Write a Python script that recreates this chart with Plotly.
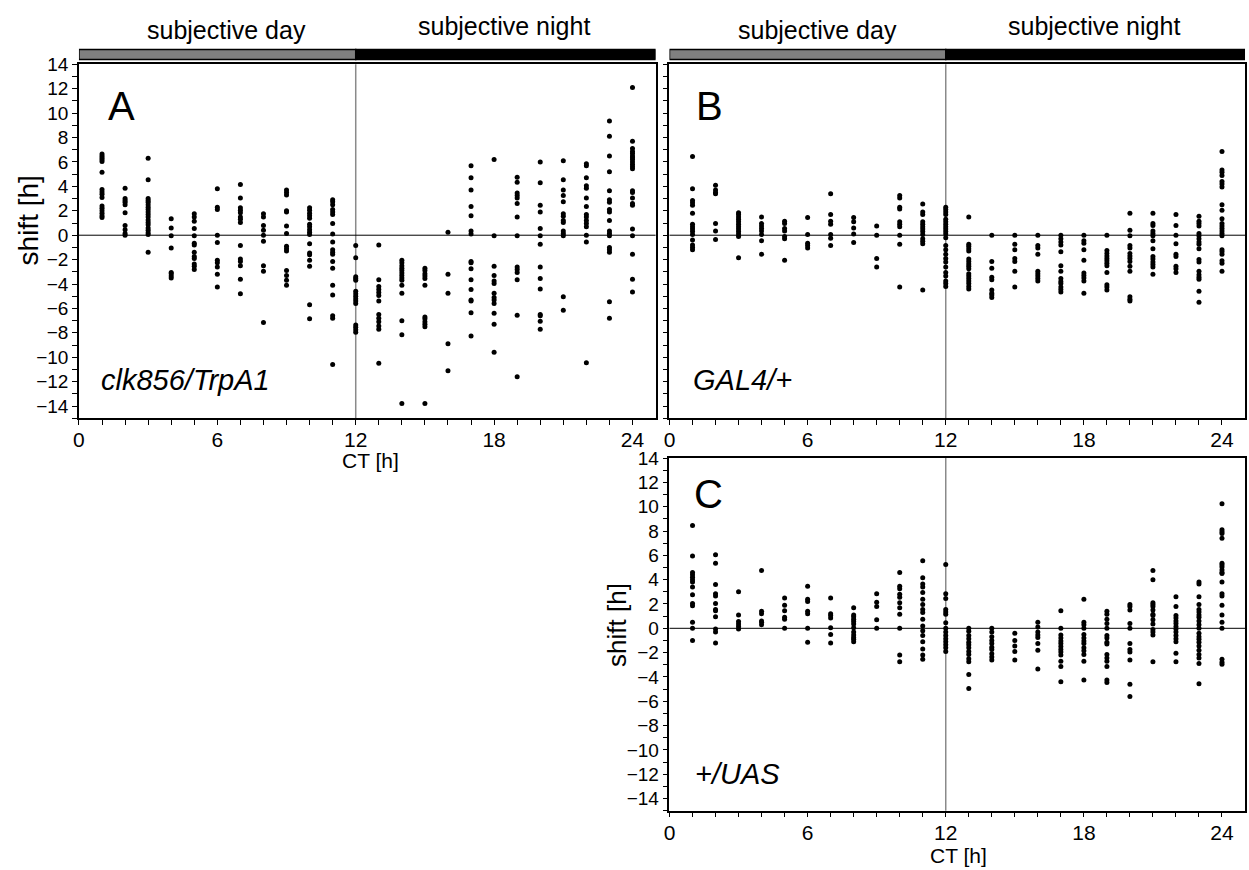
import plotly.graph_objects as go

W, H = 1249, 870
FONT = "Liberation Sans, Arial, sans-serif"

CT = list(range(1, 25))
x_ticks = [0, 6, 12, 18, 24]
y_ticks = list(range(-14, 15, 2))

shift_A = [
    [6.65, 6.5, 6.35, 6.2, 6.05, 5.15, 3.75, 3.55, 3.35, 3.1, 2.4, 2.2, 2.0, 1.8, 1.6, 1.45],
    [3.85, 3.0, 2.85, 2.7, 2.5, 1.85, 0.8, 0.45, 0.15, 0.0],
    [6.3, 4.55, 3.0, 2.85, 2.7, 2.5, 2.3, 2.1, 1.9, 1.7, 1.5, 1.25, 1.05, 0.85, 0.6, 0.4, 0.2, 0.05, -1.4],
    [1.35, 0.6, -0.05, -1.05, -3.05, -3.15, -3.35, -3.5],
    [1.75, 1.5, 1.15, 0.55, -0.05, -0.65, -0.8, -1.4, -1.75, -1.9, -2.35, -2.55, -2.8],
    [3.8, 2.3, 2.1, 0.0, -0.6, -2.05, -2.25, -2.6, -3.2, -4.25],
    [4.15, 3.05, 2.25, 2.05, 1.85, 1.5, 1.3, 1.05, -0.85, -1.95, -2.15, -2.5, -3.6, -4.8],
    [1.75, 1.5, 0.8, 0.4, 0.0, -0.5, -2.5, -2.95, -7.15],
    [3.7, 3.5, 3.3, 2.0, 1.9, 0.75, 0.15, -0.9, -1.1, -1.3, -2.9, -3.3, -3.7, -4.1],
    [2.25, 2.05, 1.8, 1.6, 1.4, 0.9, 0.7, 0.45, 0.25, 0.05, -0.7, -1.45, -1.6, -2.05, -2.55, -5.7, -6.85],
    [2.9, 2.75, 2.5, 2.1, 1.9, 1.7, 0.95, 0.1, -0.55, -1.2, -1.4, -1.55, -2.15, -2.7, -4.1, -4.9, -6.6, -6.8, -10.6],
    [-0.85, -1.85, -3.4, -3.55, -3.7, -4.6, -4.8, -5.0, -5.2, -5.4, -5.6, -7.35, -7.55, -7.75, -7.95],
    [-0.8, -3.65, -4.2, -4.45, -4.7, -4.95, -5.4, -6.5, -6.8, -7.1, -7.45, -7.7, -10.5],
    [-2.05, -2.25, -2.5, -2.7, -2.9, -3.1, -3.3, -3.5, -3.7, -4.1, -4.75, -7.0, -8.15, -13.8],
    [-2.7, -2.9, -3.15, -3.35, -3.55, -4.1, -6.7, -6.85, -7.1, -7.3, -7.5, -13.8],
    [0.25, -3.2, -4.75, -8.9, -11.1],
    [5.7, 4.7, 3.7, 2.35, 1.6, 0.35, 0.1, -2.15, -2.25, -2.75, -3.65, -4.45, -5.3, -5.4, -6.35, -8.25],
    [6.2, -0.05, -2.55, -3.3, -3.75, -3.95, -4.75, -5.1, -5.3, -5.6, -6.4, -7.3, -9.6],
    [4.75, 4.35, 3.45, 3.25, 3.05, 2.6, 1.5, -0.05, -2.6, -2.8, -3.05, -3.65, -6.55, -11.6],
    [6.0, 4.3, 2.45, 1.9, 0.55, -0.05, -0.75, -2.6, -3.55, -4.4, -6.5, -6.6, -7.05, -7.7],
    [6.1, 4.55, 3.7, 3.25, 2.75, 1.75, 1.55, 1.2, 1.05, 0.35, 0.15, -0.05, -5.05, -6.15],
    [5.85, 5.7, 4.7, 4.05, 3.85, 3.05, 2.35, 1.7, 1.5, 1.2, 0.95, 0.7, 0.0, -0.55, -10.45],
    [9.35, 8.1, 6.5, 5.2, 3.65, 2.9, 2.7, 2.1, 1.9, 1.2, 0.35, 0.15, -0.05, -1.0, -1.2, -1.4, -5.45, -6.8],
    [12.1, 7.7, 7.1, 6.85, 6.7, 6.5, 6.35, 6.2, 6.0, 5.8, 5.6, 5.45, 3.65, 3.5, 3.05, 2.6, 2.45, 0.5, -0.05, -1.55, -3.6, -4.65],
]

shift_B = [
    [6.45, 3.8, 2.85, 2.65, 2.45, 1.8, 0.9, 0.7, 0.5, 0.3, 0.05, -0.4, -0.8, -1.0, -1.2],
    [4.1, 3.7, 3.5, 3.4, 0.95, 0.35, -0.35],
    [1.85, 1.7, 1.5, 1.3, 1.1, 0.9, 0.7, 0.5, 0.3, 0.1, -0.1, -1.85],
    [1.5, 0.95, 0.75, 0.55, 0.35, 0.05, -0.45, -1.55],
    [1.15, 0.95, 0.55, 0.35, -0.1, -0.3, -2.05],
    [1.45, 0.05, -0.65, -0.85, -1.05],
    [3.4, 1.7, 1.15, 0.9, 0.05, -0.25, -0.85],
    [1.45, 1.1, 0.6, 0.1, -0.6],
    [0.75, 0.0, -1.9, -2.6],
    [3.25, 3.05, 2.3, 2.15, 1.1, 0.9, 0.7, 0.0, -0.75, -4.25],
    [2.55, 1.9, 1.7, 1.1, 0.9, 0.7, 0.5, 0.3, 0.05, -0.3, -0.5, -0.7, -4.5],
    [2.3, 2.1, 1.9, 1.7, 1.3, 1.1, 0.9, 0.7, 0.5, 0.3, 0.1, -0.2, -0.85, -1.2, -1.55, -1.9, -2.2, -2.6, -3.05, -3.35, -3.75, -3.95, -4.2],
    [1.5, -0.75, -0.9, -1.1, -1.3, -1.95, -2.15, -2.35, -2.55, -2.75, -3.15, -3.35, -3.55, -3.75, -3.95, -4.2, -4.4],
    [0.0, -2.15, -2.7, -3.45, -3.65, -4.5, -4.75, -4.9, -5.1],
    [0.0, -0.75, -1.2, -1.9, -2.15, -2.95, -4.25],
    [0.0, -0.85, -1.05, -1.55, -2.95, -3.15, -3.35, -3.55, -3.75],
    [0.0, -0.3, -0.55, -0.8, -1.35, -2.5, -2.95, -3.55, -3.8, -3.95, -4.25, -4.45, -4.65],
    [0.0, -0.45, -0.65, -1.2, -2.05, -3.1, -3.3, -3.5, -3.75, -4.75],
    [0.0, -1.25, -1.5, -1.7, -1.9, -2.1, -2.3, -2.5, -3.05, -4.05, -4.25, -4.5],
    [1.8, 0.4, -0.05, -0.85, -1.05, -1.5, -1.7, -1.9, -2.15, -2.55, -2.95, -5.05, -5.25, -5.4],
    [1.8, 0.95, 0.8, 0.35, 0.15, -0.05, -0.45, -1.1, -1.75, -1.95, -2.2, -2.4, -2.6, -3.2],
    [1.7, 0.8, 0.0, -0.7, -1.55, -1.75, -2.55, -2.75, -3.05],
    [1.55, 1.15, 0.95, 0.75, 0.15, -0.05, -0.3, -0.55, -0.75, -1.1, -2.0, -2.2, -2.95, -3.25, -3.45, -3.6, -4.6, -5.5],
    [6.85, 5.35, 5.15, 4.9, 4.4, 4.2, 3.95, 2.5, 2.05, 1.35, 0.95, 0.75, 0.55, 0.35, 0.15, -0.05, -1.2, -1.35, -1.55, -2.1, -2.3, -2.95],
]

shift_C = [
    [8.45, 5.95, 4.6, 4.4, 4.2, 4.0, 3.8, 3.4, 2.75, 2.05, 1.85, 0.5, 0.0, -1.0],
    [6.05, 5.35, 3.6, 2.85, 2.65, 2.05, 1.55, 1.45, 0.95, -0.05, -0.3, -1.2],
    [3.0, 1.1, 0.55, 0.35, 0.15, -0.05],
    [4.75, 1.4, 1.2, 0.6, 0.5, 0.3],
    [2.5, 1.9, 1.45, 0.9, 0.75, 0.0],
    [3.45, 2.4, 2.2, 1.4, 1.2, 0.0, -1.15],
    [2.5, 1.2, 1.05, 0.85, 0.05, -0.5, -1.2],
    [1.7, 1.1, 0.95, 0.75, 0.55, 0.35, 0.05, -0.3, -0.55, -0.75, -0.9, -1.1],
    [2.85, 2.15, 1.8, 0.7, 0.0],
    [4.6, 3.45, 3.25, 2.8, 2.55, 2.1, 1.7, 1.15, 0.0, -2.2, -2.75],
    [5.55, 4.15, 3.65, 3.4, 2.95, 2.4, 1.95, 1.55, 1.3, 0.75, 0.2, -0.2, -0.6, -1.1, -1.7, -2.2, -2.55],
    [5.25, 2.85, 2.45, 1.55, 1.35, 1.15, 0.45, 0.0, -0.3, -0.6, -0.85, -1.1, -1.35, -1.6, -1.9],
    [0.0, -0.25, -0.6, -0.85, -1.15, -1.35, -1.6, -1.9, -2.15, -2.5, -2.75, -3.8, -4.95],
    [0.0, -0.3, -0.7, -1.0, -1.25, -1.55, -1.75, -2.1, -2.35, -2.6],
    [-0.4, -1.0, -1.45, -1.9, -2.6],
    [0.5, 0.1, -0.3, -0.55, -0.75, -1.25, -1.8, -3.35],
    [1.45, 0.0, -0.55, -0.8, -1.05, -1.25, -1.5, -1.75, -1.95, -2.2, -2.7, -3.15, -4.4],
    [2.4, 0.5, 0.3, 0.0, -0.5, -0.8, -1.05, -1.25, -1.6, -1.85, -2.15, -2.7, -4.25],
    [1.4, 1.15, 0.75, 0.4, 0.0, -0.6, -0.8, -1.15, -1.3, -2.15, -2.45, -2.7, -3.15, -4.25, -4.45],
    [1.95, 1.8, 1.5, 0.4, 0.0, -1.25, -1.75, -1.95, -2.6, -4.6, -5.6],
    [4.75, 4.0, 2.1, 1.95, 1.8, 1.5, 1.15, 1.05, 0.7, 0.35, -0.1, -0.3, -0.55, -2.75],
    [2.6, 1.8, 1.05, 0.85, 0.6, 0.4, 0.15, -0.05, -0.3, -0.6, -0.85, -1.1, -2.05, -2.75],
    [3.8, 3.65, 2.6, 1.95, 1.55, 1.35, 1.1, 0.9, 0.6, 0.3, 0.0, -0.4, -0.7, -0.9, -1.15, -1.45, -1.8, -2.15, -2.45, -2.9, -4.55],
    [10.25, 8.1, 7.95, 7.8, 7.4, 5.35, 5.2, 5.05, 4.8, 4.6, 4.5, 3.8, 2.85, 2.65, 1.9, 1.1, 0.5, 0.0, -2.55, -2.8, -2.95],
]

panel_letters = ["A", "B", "C"]
genotypes = ["clk856/TrpA1", "GAL4/+", "+/UAS"]
phase_labels = ["subjective day", "subjective night"]
x_title = "CT [h]"
y_title = "shift [h]"


def px(x):
    return x / W


def py(y):
    return 1 - y / H


# panel boxes in pixels: (left, right, top, bottom)
boxes = {
    "A": (73.3, 652.7, 55, 413),
    "B": (666.7, 1245, 55, 413),
    "C": (666.7, 1245, 453.3, 810),
}

fig = go.Figure()
axis_ids = {"A": ("x", "y"), "B": ("x2", "y2"), "C": ("x3", "y3")}
for letter, data in zip(panel_letters, [shift_A, shift_B, shift_C]):
    xs = [ct for ct, vals in zip(CT, data) for _ in vals]
    ys = [v for vals in data for v in vals]
    xa, ya = axis_ids[letter]
    fig.add_trace(go.Scatter(
        x=xs, y=ys, mode="markers", xaxis=xa, yaxis=ya,
        marker=dict(size=5, color="black", line=dict(width=0)),
        showlegend=False, hoverinfo="skip",
    ))


def xaxis_cfg(letter):
    l, r, t, b = boxes[letter]
    return dict(
        domain=[px(l), px(r)], range=[0, 25], tickvals=x_ticks,
        ticks="outside", ticklen=5, tickwidth=1, tickcolor="black",
        minor=dict(tickvals=CT, ticks="outside", ticklen=5, tickwidth=1, tickcolor="black"),
        showline=True, mirror=True, linecolor="black", linewidth=1.5,
        showgrid=False, zeroline=False,
        tickfont=dict(family=FONT, size=21, color="black"),
        ticklabelstandoff=-3,
        anchor=axis_ids[letter][1],
    )


def yaxis_cfg(letter, labels=True):
    l, r, t, b = boxes[letter]
    return dict(
        domain=[py(b), py(t)], range=[-15, 14], tickvals=y_ticks,
        ticks="outside", ticklen=5, tickwidth=1, tickcolor="black",
        minor=dict(dtick=1, tick0=0, ticks="outside", ticklen=5, tickwidth=1, tickcolor="black"),
        showline=True, mirror=True, linecolor="black", linewidth=1.5,
        showgrid=False, zeroline=False,
        tickfont=dict(family=FONT, size=19, color="black"),
        showticklabels=labels, anchor=axis_ids[letter][0],
    )


fig.update_layout(
    width=W, height=H, margin=dict(l=0, r=0, t=0, b=0),
    paper_bgcolor="white", plot_bgcolor="white",
    xaxis=xaxis_cfg("A"), yaxis=yaxis_cfg("A"),
    xaxis2=xaxis_cfg("B"), yaxis2=yaxis_cfg("B", labels=False),
    xaxis3=xaxis_cfg("C"), yaxis3=yaxis_cfg("C"),
)

shapes = []
for letter in panel_letters:
    xa, ya = axis_ids[letter]
    # vertical line at CT 12
    shapes.append(dict(type="line", xref=xa, yref=ya + " domain", x0=12, x1=12, y0=0, y1=1,
                       line=dict(color="#8a8a8a", width=1.5), layer="below"))
    # horizontal zero line
    shapes.append(dict(type="line", xref=xa + " domain", yref=ya, x0=0, x1=1, y0=0, y1=0,
                       line=dict(color="black", width=1), layer="below"))

# day / night bars above A and B
for letter in ["A", "B"]:
    xa, ya = axis_ids[letter]
    shapes.append(dict(type="rect", xref=xa, yref="paper", x0=0, x1=12, y0=py(50), y1=py(40),
                       fillcolor="#808080", line=dict(color="black", width=1.5)))
    shapes.append(dict(type="rect", xref=xa, yref="paper", x0=12, x1=25, y0=py(50), y1=py(40),
                       fillcolor="black", line=dict(color="black", width=1.5)))
fig.update_layout(shapes=shapes)

ann = []


def text(t, x, y, size, xanchor="center", yanchor="middle", italic=False, angle=0):
    s = f"<i>{t}</i>" if italic else t
    ann.append(dict(text=s, x=px(x), y=py(y), xref="paper", yref="paper",
                    xanchor=xanchor, yanchor=yanchor, showarrow=False, textangle=angle,
                    font=dict(family=FONT, size=size, color="black")))


# header labels
for off in [0, 593.4]:
    text(phase_labels[0], 222 + off, 20, 25)
    text(phase_labels[1], 500 + off, 16, 25)

# panel letters
text("A", 100, 97, 40, xanchor="left")
text("B", 691, 97, 40, xanchor="left")
text("C", 689, 490, 40, xanchor="left")

# genotype labels
text(genotypes[0], 93, 374, 29, xanchor="left", italic=True)
text(genotypes[1], 688, 374, 29, xanchor="left", italic=True)
text(genotypes[2], 690, 773, 29, xanchor="left", italic=True)

# axis titles
text(x_title, 366, 456, 21)
text(x_title, 957, 855, 21)
text(y_title, 23, 213, 28, angle=-90)
text(y_title, 614, 622, 26, angle=-90)

fig.update_layout(annotations=ann)

fig.write_html("out.html", post_script="document.body.style.margin='0';",
               config={"displayModeBar": False})
